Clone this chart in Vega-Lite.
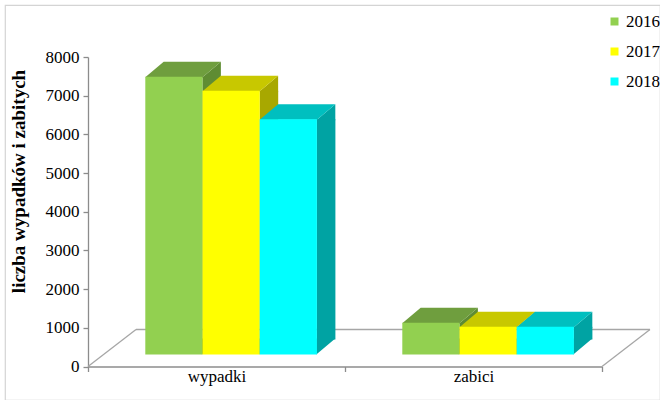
{
  "$schema": "https://vega.github.io/schema/vega-lite/v6.json",
  "width": 655,
  "height": 395,
  "autosize": {"type": "none"},
  "padding": {"left": 5, "top": 5, "right": 0, "bottom": 0},
  "background": "white",
  "config": {
    "view": {"stroke": "#d4d4d4", "strokeWidth": 1.2},
    "font": "Liberation Serif",
    "axis": {
      "grid": false,
      "domainColor": "#8c8c8c",
      "domainWidth": 1.3,
      "tickColor": "#8c8c8c",
      "tickWidth": 1.3,
      "tickSize": 5,
      "labelFont": "Liberation Serif",
      "labelFontSize": 17,
      "labelColor": "#000000"
    }
  },
  "datasets": {
    "dane": [
      {"kategoria": "wypadki", "rok": "2016", "liczba": 7180},
      {"kategoria": "wypadki", "rok": "2017", "liczba": 6820},
      {"kategoria": "wypadki", "rok": "2018", "liczba": 6080},
      {"kategoria": "zabici", "rok": "2016", "liczba": 820},
      {"kategoria": "zabici", "rok": "2017", "liczba": 715},
      {"kategoria": "zabici", "rok": "2018", "liczba": 715}
    ]
  },
  "layer": [
    {
      "data": {"values": [{}]},
      "mark": {"type": "rule", "color": "#a6a6a6", "strokeWidth": 1.3, "xOffset": 48, "x2Offset": 48, "yOffset": -37},
      "encoding": {
        "x": {"datum": "wypadki", "bandPosition": 0, "type": "nominal", "title": null},
        "x2": {"datum": "zabici", "bandPosition": 1},
        "y": {"datum": 0, "type": "quantitative", "title": "liczba wypadków i zabitych"}
      }
    },
    {
      "data": {"values": [{}]},
      "mark": {"type": "rule", "color": "#a6a6a6", "strokeWidth": 1.3, "x2Offset": 48, "y2Offset": -37},
      "encoding": {
        "x": {"datum": "wypadki", "bandPosition": 0, "type": "nominal", "title": null},
        "x2": {"datum": "wypadki", "bandPosition": 0},
        "y": {"datum": 0, "type": "quantitative", "title": "liczba wypadków i zabitych"},
        "y2": {"datum": 0}
      }
    },
    {
      "data": {"values": [{}]},
      "mark": {"type": "rule", "color": "#a6a6a6", "strokeWidth": 1.3, "x2Offset": 48, "y2Offset": -37},
      "encoding": {
        "x": {"datum": "zabici", "bandPosition": 1, "type": "nominal", "title": null},
        "x2": {"datum": "zabici", "bandPosition": 1},
        "y": {"datum": 0, "type": "quantitative", "title": "liczba wypadków i zabitych"},
        "y2": {"datum": 0}
      }
    },
    {
      "data": {"name": "dane"},
      "mark": {"type": "bar", "width": 18.6, "yOffset": -12, "y2Offset": -27},
      "encoding": {
        "x": {"field": "kategoria", "type": "nominal", "title": null},
        "xOffset": {"field": "rok", "type": "nominal", "scale": {"type": "band", "range": [52.4, 309.4], "paddingInner": 0, "paddingOuter": 0.7465}},
        "y": {"field": "liczba", "type": "quantitative", "title": "liczba wypadków i zabitych"},
        "y2": {"datum": 0},
        "color": {"field": "rok", "type": "nominal", "legend": null,
          "scale": {"domain": ["2016", "2017", "2018"], "range": ["#5f8c33", "#a8a800", "#00a3a3"]}}
      }
    },
    {
      "data": {"name": "dane"},
      "mark": {"type": "point", "filled": true, "opacity": 1, "size": 400, "strokeWidth": 0,
        "shape": "M2.8,0.1 L4.7,-1.5 L4.7,0.1 Z", "yOffset": -12},
      "encoding": {
        "x": {"field": "kategoria", "type": "nominal", "title": null},
        "xOffset": {"field": "rok", "type": "nominal", "scale": {"type": "band", "range": [14.6, 271.6], "paddingInner": 0, "paddingOuter": 0.7465}},
        "y": {"field": "liczba", "type": "quantitative", "title": "liczba wypadków i zabitych"},
        "color": {"field": "rok", "type": "nominal", "legend": null,
          "scale": {"domain": ["2016", "2017", "2018"], "range": ["#5f8c33", "#a8a800", "#00a3a3"]}}
      }
    },
    {
      "data": {"name": "dane"},
      "mark": {"type": "point", "filled": true, "opacity": 1, "size": 400, "strokeWidth": 0,
        "shape": "M2.8,0 L2.8,-1.6 L4.7,-1.6 Z", "yOffset": -12},
      "encoding": {
        "x": {"field": "kategoria", "type": "nominal", "title": null},
        "xOffset": {"field": "rok", "type": "nominal", "scale": {"type": "band", "range": [14.6, 271.6], "paddingInner": 0, "paddingOuter": 0.7465}},
        "y": {"datum": 0, "type": "quantitative", "title": "liczba wypadków i zabitych"},
        "color": {"field": "rok", "type": "nominal", "legend": null,
          "scale": {"domain": ["2016", "2017", "2018"], "range": ["#5f8c33", "#a8a800", "#00a3a3"]}}
      }
    },
    {
      "data": {"name": "dane"},
      "mark": {"type": "point", "filled": true, "opacity": 1, "size": 400, "strokeWidth": 0,
        "shape": "M-2.86,0.05 L2.86,0.05 L4.7,-1.5 L-1.02,-1.5 Z", "yOffset": -12},
      "encoding": {
        "x": {"field": "kategoria", "type": "nominal", "title": null},
        "xOffset": {"field": "rok", "type": "nominal", "scale": {"type": "band", "range": [14.6, 271.6], "paddingInner": 0, "paddingOuter": 0.7465}},
        "y": {"field": "liczba", "type": "quantitative", "title": "liczba wypadków i zabitych"},
        "color": {"field": "rok", "type": "nominal", "legend": null,
          "scale": {"domain": ["2016", "2017", "2018"], "range": ["#6f9e3e", "#c8c800", "#00bfbf"]}}
      }
    },
    {
      "data": {"name": "dane"},
      "mark": {"type": "bar", "yOffset": -12, "y2Offset": -12},
      "encoding": {
        "x": {
          "field": "kategoria", "type": "nominal", "title": null,
          "scale": {"type": "band", "range": [83, 597], "paddingInner": 0, "paddingOuter": 0},
          "axis": {"labelAngle": 0, "labelAlign": "center", "labelFlush": false, "tickBand": "extent", "offset": -33.5, "labelPadding": 5,
            "labelFont": "Liberation Serif"}
        },
        "xOffset": {"field": "rok", "type": "nominal", "scale": {"type": "band", "range": [14.6, 271.6], "paddingInner": 0, "paddingOuter": 0.7465}},
        "y": {
          "field": "liczba", "type": "quantitative", "title": "liczba wypadków i zabitych",
          "scale": {"domain": [0, 8000], "range": [361.5, 52], "nice": false},
          "axis": {
            "values": [0, 1000, 2000, 3000, 4000, 5000, 6000, 7000, 8000],
            "format": "d", "labelFont": "Liberation Serif",
            "offset": -83, "labelPadding": 4,
            "titleFont": "Liberation Serif", "titleFontSize": 19, "titleFontWeight": "bold",
            "titleColor": "#000000", "titleAngle": -90, "titleAlign": "center", "titleBaseline": "middle",
            "titleX": -70, "titleY": 176
          }
        },
        "y2": {"datum": 0},
        "color": {
          "field": "rok", "type": "nominal",
          "scale": {"domain": ["2016", "2017", "2018"], "range": ["#92d050", "#ffff00", "#00ffff"]},
          "legend": {
            "title": null, "orient": "none", "legendX": 601, "legendY": 8,
            "symbolType": "square", "symbolSize": 64, "symbolStrokeWidth": 0,
            "labelFont": "Liberation Serif", "labelFontSize": 17, "labelColor": "#000000",
            "labelOffset": 3, "rowPadding": 12, "padding": 0
          }
        }
      }
    }
  ],
  "resolve": {"scale": {"color": "independent", "xOffset": "independent"}}
}
